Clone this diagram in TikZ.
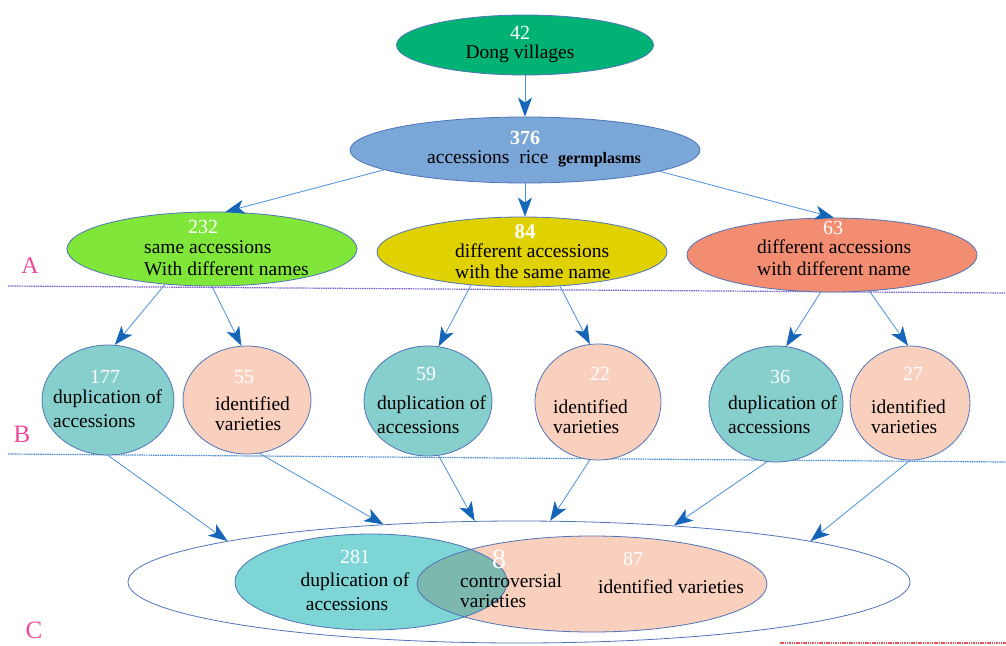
\documentclass[tikz,border=0pt]{standalone}
\usepackage{fontspec}
\setmainfont{Liberation Serif}
\usetikzlibrary{shapes.geometric,arrows.meta}
\definecolor{c42}{HTML}{00B274}
\definecolor{c376}{HTML}{7BA6D8}
\definecolor{c232}{HTML}{80E63A}
\definecolor{c84}{HTML}{E0D100}
\definecolor{c63}{HTML}{F28D72}
\definecolor{cteal}{HTML}{87CFCC}
\definecolor{cpeach}{HTML}{F9D0BE}
\definecolor{cteal2}{HTML}{7DD5D6}
\definecolor{coverlap}{HTML}{7DB8AE}
\definecolor{ellline}{HTML}{4F74B8}
\definecolor{arrline}{HTML}{4A90D9}
\definecolor{arrhead}{HTML}{1565B8}
\definecolor{labcol}{HTML}{F0489A}
\definecolor{dashA}{HTML}{7B5EC8}
\definecolor{dashB}{HTML}{4A8ED0}
\definecolor{dashC}{HTML}{E8505A}
\begin{document}
\begin{tikzpicture}[x=1pt,y=-1pt,
 ell/.style={ellipse, draw=ellline, line width=0.8pt, inner sep=0pt},
 arr/.style={draw=arrline, line width=0.8pt, -{Stealth[length=19pt,width=14pt,inset=5pt,color=arrhead]}},
 lbl/.style={font=\fontsize{19.5}{22}\selectfont, inner sep=0pt, anchor=base west},
 num/.style={font=\fontsize{20}{22}\selectfont, text=white, inner sep=0pt, anchor=base},
 sec/.style={font=\fontsize{25}{26}\selectfont, text=labcol, inner sep=0pt, anchor=base},
 sepline/.style={line width=1.2pt, dash pattern=on 1.5pt off 0.8pt}]
\useasboundingbox (0,0) rectangle (1006,645);
\fill[white] (0,0) rectangle (1006,645);

% separators
\draw[sepline, dashA] (8,286) -- (1006,293);
\draw[sepline, dashB] (8,454) -- (1006,462);
\draw[sepline, dashC] (780,643) -- (1006,643);

% section labels
\node[sec, font=\fontsize{24}{26}\selectfont] (labA) at (30,273) {A};
\node[sec] (labB) at (22,442) {B};
\node[sec] (labC) at (34,638) {C};

% top levels
\node[ell, fill=c42, minimum width=257pt, minimum height=60pt] (n42) at (525,45) {};
\node[ell, fill=c376, minimum width=350pt, minimum height=66pt] (n376) at (525,150) {};
\node[ell, fill=c232, minimum width=290pt, minimum height=74pt] (n232) at (212,249) {};
\node[ell, fill=c84, minimum width=290pt, minimum height=70pt] (n84) at (522,252) {};
\node[ell, fill=c63, minimum width=290pt, minimum height=74pt] (n63) at (832,255) {};

\node[num] (t42) at (520,39) {42};
\node[lbl, anchor=base] (t42b) at (520,58) {Dong villages};
\node[num, font=\fontsize{20}{22}\selectfont\bfseries] (t376) at (525,144) {376};
\node[lbl] (t376b) at (427,163) {accessions\ \ rice\ \ {\bfseries\fontsize{16}{20}\selectfont germplasms}};
\node[num] (t232) at (203,233) {232};
\node[lbl] (t232a) at (144,253) {same accessions};
\node[lbl] (t232b) at (144,275) {With different names};
\node[num, font=\fontsize{21}{22}\selectfont\bfseries] (t84) at (525,238) {84};
\node[lbl] (t84a) at (455,257) {different accessions};
\node[lbl] (t84b) at (455,278) {with the same name};
\node[num] (t63) at (833,234) {63};
\node[lbl] (t63a) at (757,253) {different accessions};
\node[lbl] (t63b) at (757,275) {with different name};

% level B
\node[ell, fill=cteal, minimum width=132pt, minimum height=110pt] (n177) at (108,400) {};
\node[ell, fill=cpeach, minimum width=128pt, minimum height=108pt] (n55) at (247,400) {};
\node[ell, fill=cteal, minimum width=128pt, minimum height=110pt] (n59) at (428,401) {};
\node[ell, fill=cpeach, minimum width=126pt, minimum height=116pt] (n22) at (598,402) {};
\node[ell, fill=cteal, minimum width=134pt, minimum height=116pt] (n36) at (776,404) {};
\node[ell, fill=cpeach, minimum width=120pt, minimum height=114pt] (n27) at (910,403) {};

\node[num] (t177) at (105,383) {177};
\node[lbl] (t177a) at (53,403) {duplication of};
\node[lbl] (t177b) at (53,427) {accessions};
\node[num] (t55) at (244,383) {55};
\node[lbl] (t55a) at (215,410) {identified};
\node[lbl] (t55b) at (215,430) {varieties};
\node[num] (t59) at (426,380) {59};
\node[lbl] (t59a) at (377,409) {duplication of};
\node[lbl] (t59b) at (377,433) {accessions};
\node[num] (t22) at (600,380) {22};
\node[lbl] (t22a) at (553,413) {identified};
\node[lbl] (t22b) at (553,433) {varieties};
\node[num] (t36) at (780,383) {36};
\node[lbl] (t36a) at (728,409) {duplication of};
\node[lbl] (t36b) at (728,433) {accessions};
\node[num] (t27) at (913,380) {27};
\node[lbl] (t27a) at (871,413) {identified};
\node[lbl] (t27b) at (871,433) {varieties};

% level C
\node[ell, fill=white, minimum width=782pt, minimum height=122pt] (nC) at (519,582) {};
\node[ellipse, fill=cpeach, minimum width=350pt, minimum height=96pt, inner sep=0pt] (nPeach) at (592,584) {};
\node[ellipse, fill=cteal2, minimum width=272pt, minimum height=96pt, inner sep=0pt] (nTeal) at (371,582) {};
\begin{scope}
\clip (371,582) ellipse [x radius=136, y radius=48];
\fill[coverlap] (592,584) ellipse [x radius=175, y radius=48];
\end{scope}
\draw[ellline, line width=0.8pt] (592,584) ellipse [x radius=175, y radius=48];
\draw[ellline, line width=0.8pt] (371,582) ellipse [x radius=136, y radius=48];

\node[num] (t281) at (355,563) {281};
\node[lbl, anchor=base] (t281a) at (355,586) {duplication of};
\node[lbl, anchor=base] (t281b) at (347,610) {accessions};
\node[num, font=\fontsize{28}{30}\selectfont] (t8) at (499,568) {8};
\node[lbl] (t8a) at (460,587) {controversial};
\node[lbl] (t8b) at (460,607) {varieties};
\node[num] (t87) at (633,565) {87};
\node[lbl] (t87a) at (598,593) {identified varieties};

% arrows
\draw[arr] (n42.south) -- (n376.north);
\draw[arr] (n376.188.5) -- (n232.70);
\draw[arr] (n376.south) -- (n376.south |- n84.north);
\draw[arr] (n376.351) -- (n63.87);

\draw[arr] (n232.217) -- (n177.83);
\draw[arr] (n232.south) -- (n55.96);
\draw[arr] (n84.213) -- (n59.79);
\draw[arr] (n84.318) -- (n22.98);
\draw[arr] (n63.253) -- (n36.80);
\draw[arr] (n63.316) -- (n27.92);

\draw[arr] (n177.south) -- (nC.172);
\draw[arr] (n55.283) -- (nC.157);
\draw[arr] (n59.281) -- (nC.126);
\draw[arr] (n22.262) -- (nC.63);
\draw[arr] (n36.261) -- (nC.20.4);
\draw[arr] (n27.south) -- (nC.8.7);
\end{tikzpicture}
\end{document}
